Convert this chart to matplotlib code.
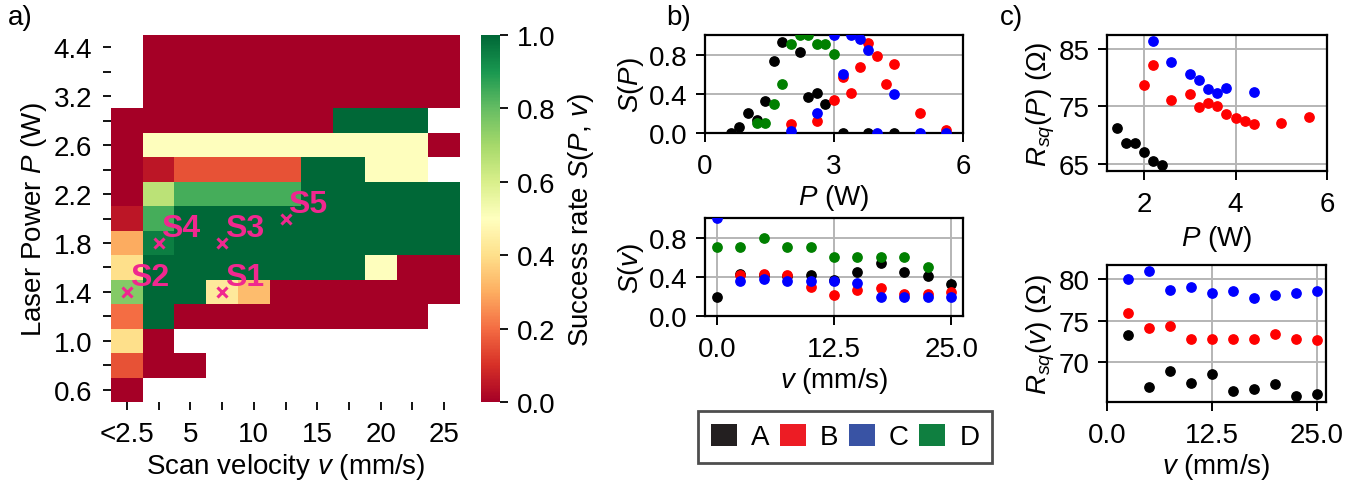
import numpy as np
import matplotlib
matplotlib.use("Agg")
import matplotlib.pyplot as plt
from matplotlib.patches import Patch

plt.rcParams['font.family'] = 'Liberation Sans'
plt.rcParams['font.size'] = 20
plt.rcParams['mathtext.fontset'] = 'custom'
plt.rcParams['mathtext.rm'] = 'Liberation Sans'
plt.rcParams['mathtext.it'] = 'Liberation Sans:italic'

nan = np.nan

# ---------------------------------------------------------------- heatmap data
# rows: laser power (bottom -> top), cols: scan velocity
power_labels = ['0.6', '', '1.0', '', '1.4', '', '1.8', '', '2.2', '', '2.6', '', '3.2', '', '4.4']
velocity_labels = ['<2.5', '', '5', '', '10', '', '15', '', '20', '', '25']
success = np.array([
    [0.00, nan, nan, nan, nan, nan, nan, nan, nan, nan, nan],
    [0.16, 0.0, 0.0, nan, nan, nan, nan, nan, nan, nan, nan],
    [0.40, 0.0, nan, nan, nan, nan, nan, nan, nan, nan, nan],
    [0.20, 1.0, 0.0, 0.0, 0.0, 0.0, 0.0, 0.0, 0.0, 0.0, nan],
    [0.75, 1.0, 1.0, 0.43, 0.33, 0.0, 0.0, 0.0, 0.0, 0.0, 0.0],
    [0.40, 1.0, 1.0, 1.0, 1.0, 1.0, 1.0, 1.0, 0.5, 0.0, 0.0],
    [0.30, 0.95, 1.0, 1.0, 1.0, 1.0, 1.0, 1.0, 1.0, 1.0, 1.0],
    [0.05, 0.84, 1.0, 1.0, 1.0, 1.0, 1.0, 1.0, 1.0, 1.0, 1.0],
    [0.00, 0.66, 0.84, 0.84, 0.84, 0.84, 1.0, 1.0, 1.0, 1.0, 1.0],
    [0.00, 0.05, 0.16, 0.16, 0.16, 0.16, 1.0, 1.0, 0.5, 0.5, nan],
    [0.00, 0.5, 0.5, 0.5, 0.5, 0.5, 0.5, 0.5, 0.5, 0.5, 0.0],
    [0.00, 0.0, 0.0, 0.0, 0.0, 0.0, 0.0, 1.0, 1.0, 1.0, nan],
    [nan, 0.0, 0.0, 0.0, 0.0, 0.0, 0.0, 0.0, 0.0, 0.0, 0.0],
    [nan, 0.0, 0.0, 0.0, 0.0, 0.0, 0.0, 0.0, 0.0, 0.0, 0.0],
    [nan, 0.0, 0.0, 0.0, 0.0, 0.0, 0.0, 0.0, 0.0, 0.0, 0.0],
])
sample_names = ['S1', 'S2', 'S3', 'S4', 'S5']
sample_col = [3, 0, 3, 1, 5]
sample_row = [4, 4, 6, 6, 7]

# ---------------------------------------------------------------- S(P)
A_P = [0.6, 0.8, 1.0, 1.2, 1.4, 1.6, 1.8, 2.2, 2.4, 2.6, 2.8, 3.2, 3.8, 4.4]
A_SP = [0.0, 0.06, 0.2, 0.13, 0.33, 0.73, 0.93, 0.83, 0.37, 0.41, 0.30, 0.0, 0.0, 0.0]
B_P = [2.0, 2.6, 3.0, 3.2, 3.4, 3.6, 3.8, 4.0, 4.2, 4.4, 5.0, 5.6]
B_SP = [0.09, 0.12, 0.34, 0.57, 0.41, 0.67, 0.92, 0.79, 0.50, 0.70, 0.20, 0.03]
C_P = [2.0, 2.6, 3.0, 3.2, 3.4, 3.6, 3.8, 4.0, 4.4, 5.0, 5.6]
C_SP = [0.02, 0.20, 1.0, 0.60, 1.0, 0.96, 0.85, 0.0, 0.40, 0.0, 0.0]
D_P = [1.2, 1.4, 1.6, 1.8, 2.0, 2.2, 2.4, 2.6, 2.8, 3.0]
D_SP = [0.10, 0.10, 0.30, 0.50, 0.91, 1.0, 1.0, 0.91, 0.91, 0.81]

# ---------------------------------------------------------------- S(v)
v_all = [0, 2.5, 5, 7.5, 10, 12.5, 15, 17.5, 20, 22.5, 25]
A_Sv = [0.19, 0.43, 0.42, 0.41, 0.42, 0.37, 0.45, 0.54, 0.45, 0.41, 0.33]
B_v = [2.5, 5, 7.5, 10, 12.5, 15, 17.5, 20, 22.5, 25]
B_Sv = [0.42, 0.43, 0.42, 0.30, 0.215, 0.27, 0.29, 0.22, 0.22, 0.25]
C_Sv = [1.0, 0.355, 0.38, 0.355, 0.355, 0.36, 0.335, 0.19, 0.19, 0.19, 0.19]
D_v = [0, 2.5, 5, 7.5, 10, 12.5, 15, 17.5, 20, 22.5]
D_Sv = [0.70, 0.70, 0.80, 0.70, 0.70, 0.60, 0.60, 0.60, 0.60, 0.50]

# ---------------------------------------------------------------- R_sq(P)
A_RP_P = [1.4, 1.6, 1.8, 2.0, 2.2, 2.4]
A_RP = [71.2, 68.6, 68.6, 67.1, 65.5, 64.8]
B_RP_P = [2.0, 2.2, 2.6, 3.0, 3.2, 3.4, 3.6, 3.8, 4.0, 4.2, 4.4, 5.0, 5.6]
B_RP = [78.6, 82.1, 76.1, 77.2, 74.8, 75.6, 75.0, 73.6, 72.9, 72.5, 71.9, 72.0, 73.2]
C_RP_P = [2.2, 2.6, 3.0, 3.2, 3.4, 3.6, 3.8, 4.4]
C_RP = [86.3, 82.7, 80.6, 79.5, 78.0, 77.3, 78.1, 77.5]

# ---------------------------------------------------------------- R_sq(v)
R_v = [2.5, 5, 7.5, 10, 12.5, 15, 17.5, 20, 22.5, 25]
A_Rv = [73.3, 67.1, 69.0, 67.5, 68.6, 66.6, 66.8, 67.4, 66.0, 66.2]
B_Rv = [75.9, 74.1, 74.4, 72.8, 72.8, 72.8, 72.8, 73.4, 72.8, 72.7]
C_Rv = [80.0, 80.9, 78.6, 79.0, 78.3, 78.5, 77.7, 78.0, 78.3, 78.5]

group_names = ['A', 'B', 'C', 'D']
point_colors = ['black', 'red', 'blue', 'green']
legend_colors = ['#231f20', '#ed1c24', '#3953a4', '#0f7f40']

W, H = 1362, 485
fig = plt.figure(figsize=(W / 100, H / 100), dpi=100)


def box(x0, y0, x1, y1):
    # pixel box -> figure fraction rect
    return [x0 / W, 1 - y1 / H, (x1 - x0) / W, (y1 - y0) / H]


# ---------------------------------------------------------------- a) heatmap
ax = fig.add_axes(box(111, 36, 460, 403))
cmap = plt.get_cmap('RdYlGn').copy()
cmap.set_bad('white')
im = ax.imshow(np.ma.masked_invalid(success), cmap=cmap, vmin=0, vmax=1,
               origin='lower', aspect='auto', interpolation='nearest')
for s in ax.spines.values():
    s.set_visible(False)
ax.set_xticks(np.arange(len(velocity_labels)))
ax.set_xticklabels(velocity_labels)
ax.set_yticks(np.arange(len(power_labels)))
ax.set_yticklabels(power_labels)
ax.tick_params(length=5.5, width=1.3, pad=8)
ax.set_xlabel('Scan velocity $v$ (mm/s)', labelpad=3)
ax.set_ylabel('Laser Power $P$ (W)', labelpad=3)

pink = '#f0288f'
for name, c, r in zip(sample_names, sample_col, sample_row):
    ax.plot(c, r, 'x', color=pink, ms=7, mew=2.2)
    ax.annotate(name, (c, r), xytext=(2, 5), textcoords='offset points',
                color=pink, fontsize=23, fontweight='bold', va='baseline', ha='left')

cax = fig.add_axes(box(481, 36, 500, 403))
cb = fig.colorbar(im, cax=cax)
cb.outline.set_visible(False)
cb.set_ticks([0, 0.2, 0.4, 0.6, 0.8, 1.0])
cb.ax.tick_params(length=6, width=1.3, pad=6)
cb.set_label('Success rate $S(P,\\,v)$', labelpad=8)

fig.text(8 / W, 1 - 18 / H, 'a)', fontsize=20, va='center')
fig.text(666 / W, 1 - 18 / H, 'b)', fontsize=20, va='center')
fig.text(1000 / W, 1 - 18 / H, 'c)', fontsize=20, va='center')


def style(a):
    a.grid(True, color='#b5b5b5', lw=1.4)
    a.set_axisbelow(True)
    for s in a.spines.values():
        s.set_linewidth(1.6)
    a.tick_params(length=6.5, width=1.4)
    a.tick_params(axis='x', pad=8)
    a.tick_params(axis='y', pad=6)


# ---------------------------------------------------------------- b) S(P)
ax_bp = fig.add_axes(box(705, 36, 963, 134))
for xs, ys, col in zip([A_P, B_P, C_P, D_P], [A_SP, B_SP, C_SP, D_SP], point_colors):
    ax_bp.scatter(xs, ys, s=45, color=col, zorder=3, clip_on=True)
ax_bp.set_xlim(0, 6)
ax_bp.set_ylim(0, 1)
ax_bp.set_xticks([0, 3, 6])
ax_bp.set_yticks([0, 0.4, 0.8])
ax_bp.set_yticklabels(['0.0', '0.4', '0.8'])
ax_bp.set_xlabel('$P$ (W)', labelpad=2)
ax_bp.set_ylabel('$S(P)$', labelpad=2)
style(ax_bp)

# ---------------------------------------------------------------- b) S(v)
ax_bv = fig.add_axes(box(705, 219, 963, 317))
for xs, ys, col in zip([v_all, B_v, v_all, D_v], [A_Sv, B_Sv, C_Sv, D_Sv], point_colors):
    ax_bv.scatter(xs, ys, s=45, color=col, zorder=3)
ax_bv.set_ylim(0, 1)
ax_bv.set_xticks([0, 12.5, 25])
ax_bv.set_xticklabels(['0.0', '12.5', '25.0'])
ax_bv.set_yticks([0, 0.4, 0.8])
ax_bv.set_yticklabels(['0.0', '0.4', '0.8'])
ax_bv.set_xlabel('$v$ (mm/s)', labelpad=2)
ax_bv.set_ylabel('$S(v)$', labelpad=2)
style(ax_bv)

# ---------------------------------------------------------------- c) R(P)
ax_cp = fig.add_axes(box(1107, 36, 1327, 172))
for xs, ys, col in zip([A_RP_P, B_RP_P, C_RP_P], [A_RP, B_RP, C_RP], point_colors):
    ax_cp.scatter(xs, ys, s=45, color=col, zorder=3)
ax_cp.set_xticks([2, 4, 6])
ax_cp.set_yticks([65, 75, 85])
ax_cp.set_xlabel('$P$ (W)', labelpad=4)
ax_cp.set_ylabel('$R_{sq}(P)$ ($\\Omega$)', labelpad=1)
style(ax_cp)

# ---------------------------------------------------------------- c) R(v)
ax_cv = fig.add_axes(box(1107, 266, 1326, 403))
for ys, col in zip([A_Rv, B_Rv, C_Rv], point_colors):
    ax_cv.scatter(R_v, ys, s=45, color=col, zorder=3)
ax_cv.set_xticks([0, 12.5, 25])
ax_cv.set_xticklabels(['0.0', '12.5', '25.0'])
ax_cv.set_yticks([70, 75, 80])
ax_cv.set_xlabel('$v$ (mm/s)', labelpad=2)
ax_cv.set_ylabel('$R_{sq}(v)$ ($\\Omega$)', labelpad=1)
style(ax_cv)

# ---------------------------------------------------------------- legend
handles = [Patch(facecolor=c, edgecolor='none', label=n) for c, n in zip(legend_colors, group_names)]
leg = fig.legend(handles=handles, loc='center', bbox_to_anchor=(845 / W, 1 - 438 / H),
                 ncol=4, fontsize=20, frameon=True, fancybox=False,
                 handlelength=0.94, handleheight=0.86, handletextpad=0.5,
                 columnspacing=0.38, borderpad=0.45, borderaxespad=0)
leg.get_frame().set_edgecolor('#222222')
leg.get_frame().set_linewidth(2)

fig.savefig('out.png', dpi=100)
